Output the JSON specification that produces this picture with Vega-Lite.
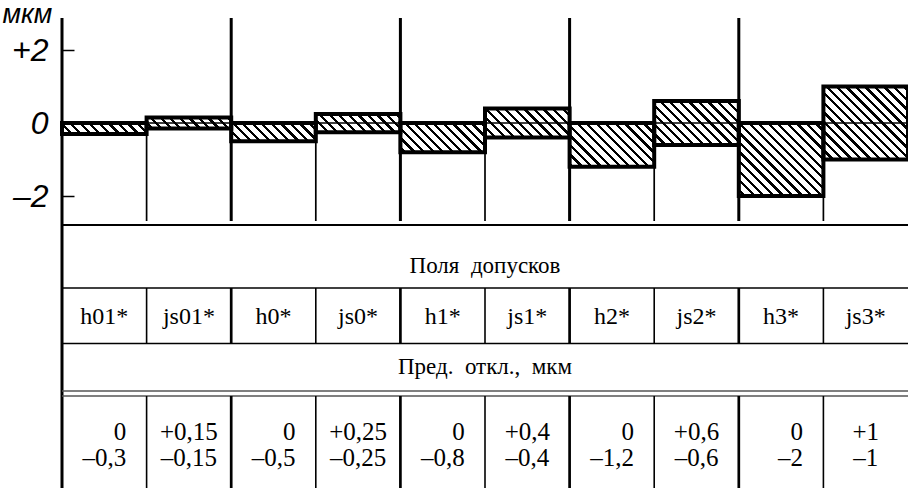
{
"$schema": "https://vega.github.io/schema/vega-lite/v6.json",
"width": 846,
"height": 488,
"autosize": "none",
"padding": {"left": 62, "top": 0, "right": 0, "bottom": 0},
"background": "white",
"config": {
  "view": {"stroke": null},
  "locale": {"number": {"decimal": ",", "thousands": "\u00a0", "grouping": [3], "currency": ["", ""], "minus": "\u2013"}}
},
"data": {"values": [
  {"name": "h01*", "kind": "h", "lower": -0.3, "upper": 0},
  {"name": "js01*", "kind": "js", "lower": -0.15, "upper": 0.15},
  {"name": "h0*", "kind": "h", "lower": -0.5, "upper": 0},
  {"name": "js0*", "kind": "js", "lower": -0.25, "upper": 0.25},
  {"name": "h1*", "kind": "h", "lower": -0.8, "upper": 0},
  {"name": "js1*", "kind": "js", "lower": -0.4, "upper": 0.4},
  {"name": "h2*", "kind": "h", "lower": -1.2, "upper": 0},
  {"name": "js2*", "kind": "js", "lower": -0.6, "upper": 0.6},
  {"name": "h3*", "kind": "h", "lower": -2, "upper": 0},
  {"name": "js3*", "kind": "js", "lower": -1, "upper": 1}
]},
"layer": [
  {
    "data": {"values": [{}]},
    "mark": {"type": "rect", "fill": {"gradient": "linear", "x1": 0, "y1": 1, "x2": 1.11083, "y2": 0.85622, "stops": [
{"offset":0.0033,"color":"#fff"},{"offset":0.0033,"color":"#000"},{"offset":0.0067,"color":"#000"},{"offset":0.0067,"color":"#fff"},
{"offset":0.0133,"color":"#fff"},{"offset":0.0133,"color":"#000"},{"offset":0.0167,"color":"#000"},{"offset":0.0167,"color":"#fff"},
{"offset":0.0233,"color":"#fff"},{"offset":0.0233,"color":"#000"},{"offset":0.0267,"color":"#000"},{"offset":0.0267,"color":"#fff"},
{"offset":0.0333,"color":"#fff"},{"offset":0.0333,"color":"#000"},{"offset":0.0367,"color":"#000"},{"offset":0.0367,"color":"#fff"},
{"offset":0.0433,"color":"#fff"},{"offset":0.0433,"color":"#000"},{"offset":0.0467,"color":"#000"},{"offset":0.0467,"color":"#fff"},
{"offset":0.0533,"color":"#fff"},{"offset":0.0533,"color":"#000"},{"offset":0.0567,"color":"#000"},{"offset":0.0567,"color":"#fff"},
{"offset":0.0633,"color":"#fff"},{"offset":0.0633,"color":"#000"},{"offset":0.0667,"color":"#000"},{"offset":0.0667,"color":"#fff"},
{"offset":0.0733,"color":"#fff"},{"offset":0.0733,"color":"#000"},{"offset":0.0767,"color":"#000"},{"offset":0.0767,"color":"#fff"},
{"offset":0.0833,"color":"#fff"},{"offset":0.0833,"color":"#000"},{"offset":0.0867,"color":"#000"},{"offset":0.0867,"color":"#fff"},
{"offset":0.0933,"color":"#fff"},{"offset":0.0933,"color":"#000"},{"offset":0.0967,"color":"#000"},{"offset":0.0967,"color":"#fff"},
{"offset":0.1033,"color":"#fff"},{"offset":0.1033,"color":"#000"},{"offset":0.1067,"color":"#000"},{"offset":0.1067,"color":"#fff"},
{"offset":0.1133,"color":"#fff"},{"offset":0.1133,"color":"#000"},{"offset":0.1167,"color":"#000"},{"offset":0.1167,"color":"#fff"},
{"offset":0.1233,"color":"#fff"},{"offset":0.1233,"color":"#000"},{"offset":0.1267,"color":"#000"},{"offset":0.1267,"color":"#fff"},
{"offset":0.1333,"color":"#fff"},{"offset":0.1333,"color":"#000"},{"offset":0.1367,"color":"#000"},{"offset":0.1367,"color":"#fff"},
{"offset":0.1433,"color":"#fff"},{"offset":0.1433,"color":"#000"},{"offset":0.1467,"color":"#000"},{"offset":0.1467,"color":"#fff"},
{"offset":0.1533,"color":"#fff"},{"offset":0.1533,"color":"#000"},{"offset":0.1567,"color":"#000"},{"offset":0.1567,"color":"#fff"},
{"offset":0.1633,"color":"#fff"},{"offset":0.1633,"color":"#000"},{"offset":0.1667,"color":"#000"},{"offset":0.1667,"color":"#fff"},
{"offset":0.1733,"color":"#fff"},{"offset":0.1733,"color":"#000"},{"offset":0.1767,"color":"#000"},{"offset":0.1767,"color":"#fff"},
{"offset":0.1833,"color":"#fff"},{"offset":0.1833,"color":"#000"},{"offset":0.1867,"color":"#000"},{"offset":0.1867,"color":"#fff"},
{"offset":0.1933,"color":"#fff"},{"offset":0.1933,"color":"#000"},{"offset":0.1967,"color":"#000"},{"offset":0.1967,"color":"#fff"},
{"offset":0.2033,"color":"#fff"},{"offset":0.2033,"color":"#000"},{"offset":0.2067,"color":"#000"},{"offset":0.2067,"color":"#fff"},
{"offset":0.2133,"color":"#fff"},{"offset":0.2133,"color":"#000"},{"offset":0.2167,"color":"#000"},{"offset":0.2167,"color":"#fff"},
{"offset":0.2233,"color":"#fff"},{"offset":0.2233,"color":"#000"},{"offset":0.2267,"color":"#000"},{"offset":0.2267,"color":"#fff"},
{"offset":0.2333,"color":"#fff"},{"offset":0.2333,"color":"#000"},{"offset":0.2367,"color":"#000"},{"offset":0.2367,"color":"#fff"},
{"offset":0.2433,"color":"#fff"},{"offset":0.2433,"color":"#000"},{"offset":0.2467,"color":"#000"},{"offset":0.2467,"color":"#fff"},
{"offset":0.2533,"color":"#fff"},{"offset":0.2533,"color":"#000"},{"offset":0.2567,"color":"#000"},{"offset":0.2567,"color":"#fff"},
{"offset":0.2633,"color":"#fff"},{"offset":0.2633,"color":"#000"},{"offset":0.2667,"color":"#000"},{"offset":0.2667,"color":"#fff"},
{"offset":0.2733,"color":"#fff"},{"offset":0.2733,"color":"#000"},{"offset":0.2767,"color":"#000"},{"offset":0.2767,"color":"#fff"},
{"offset":0.2833,"color":"#fff"},{"offset":0.2833,"color":"#000"},{"offset":0.2867,"color":"#000"},{"offset":0.2867,"color":"#fff"},
{"offset":0.2933,"color":"#fff"},{"offset":0.2933,"color":"#000"},{"offset":0.2967,"color":"#000"},{"offset":0.2967,"color":"#fff"},
{"offset":0.3033,"color":"#fff"},{"offset":0.3033,"color":"#000"},{"offset":0.3067,"color":"#000"},{"offset":0.3067,"color":"#fff"},
{"offset":0.3133,"color":"#fff"},{"offset":0.3133,"color":"#000"},{"offset":0.3167,"color":"#000"},{"offset":0.3167,"color":"#fff"},
{"offset":0.3233,"color":"#fff"},{"offset":0.3233,"color":"#000"},{"offset":0.3267,"color":"#000"},{"offset":0.3267,"color":"#fff"},
{"offset":0.3333,"color":"#fff"},{"offset":0.3333,"color":"#000"},{"offset":0.3367,"color":"#000"},{"offset":0.3367,"color":"#fff"},
{"offset":0.3433,"color":"#fff"},{"offset":0.3433,"color":"#000"},{"offset":0.3467,"color":"#000"},{"offset":0.3467,"color":"#fff"},
{"offset":0.3533,"color":"#fff"},{"offset":0.3533,"color":"#000"},{"offset":0.3567,"color":"#000"},{"offset":0.3567,"color":"#fff"},
{"offset":0.3633,"color":"#fff"},{"offset":0.3633,"color":"#000"},{"offset":0.3667,"color":"#000"},{"offset":0.3667,"color":"#fff"},
{"offset":0.3733,"color":"#fff"},{"offset":0.3733,"color":"#000"},{"offset":0.3767,"color":"#000"},{"offset":0.3767,"color":"#fff"},
{"offset":0.3833,"color":"#fff"},{"offset":0.3833,"color":"#000"},{"offset":0.3867,"color":"#000"},{"offset":0.3867,"color":"#fff"},
{"offset":0.3933,"color":"#fff"},{"offset":0.3933,"color":"#000"},{"offset":0.3967,"color":"#000"},{"offset":0.3967,"color":"#fff"},
{"offset":0.4033,"color":"#fff"},{"offset":0.4033,"color":"#000"},{"offset":0.4067,"color":"#000"},{"offset":0.4067,"color":"#fff"},
{"offset":0.4133,"color":"#fff"},{"offset":0.4133,"color":"#000"},{"offset":0.4167,"color":"#000"},{"offset":0.4167,"color":"#fff"},
{"offset":0.4233,"color":"#fff"},{"offset":0.4233,"color":"#000"},{"offset":0.4267,"color":"#000"},{"offset":0.4267,"color":"#fff"},
{"offset":0.4333,"color":"#fff"},{"offset":0.4333,"color":"#000"},{"offset":0.4367,"color":"#000"},{"offset":0.4367,"color":"#fff"},
{"offset":0.4433,"color":"#fff"},{"offset":0.4433,"color":"#000"},{"offset":0.4467,"color":"#000"},{"offset":0.4467,"color":"#fff"},
{"offset":0.4533,"color":"#fff"},{"offset":0.4533,"color":"#000"},{"offset":0.4567,"color":"#000"},{"offset":0.4567,"color":"#fff"},
{"offset":0.4633,"color":"#fff"},{"offset":0.4633,"color":"#000"},{"offset":0.4667,"color":"#000"},{"offset":0.4667,"color":"#fff"},
{"offset":0.4733,"color":"#fff"},{"offset":0.4733,"color":"#000"},{"offset":0.4767,"color":"#000"},{"offset":0.4767,"color":"#fff"},
{"offset":0.4833,"color":"#fff"},{"offset":0.4833,"color":"#000"},{"offset":0.4867,"color":"#000"},{"offset":0.4867,"color":"#fff"},
{"offset":0.4933,"color":"#fff"},{"offset":0.4933,"color":"#000"},{"offset":0.4967,"color":"#000"},{"offset":0.4967,"color":"#fff"},
{"offset":0.5033,"color":"#fff"},{"offset":0.5033,"color":"#000"},{"offset":0.5067,"color":"#000"},{"offset":0.5067,"color":"#fff"},
{"offset":0.5133,"color":"#fff"},{"offset":0.5133,"color":"#000"},{"offset":0.5167,"color":"#000"},{"offset":0.5167,"color":"#fff"},
{"offset":0.5233,"color":"#fff"},{"offset":0.5233,"color":"#000"},{"offset":0.5267,"color":"#000"},{"offset":0.5267,"color":"#fff"},
{"offset":0.5333,"color":"#fff"},{"offset":0.5333,"color":"#000"},{"offset":0.5367,"color":"#000"},{"offset":0.5367,"color":"#fff"},
{"offset":0.5433,"color":"#fff"},{"offset":0.5433,"color":"#000"},{"offset":0.5467,"color":"#000"},{"offset":0.5467,"color":"#fff"},
{"offset":0.5533,"color":"#fff"},{"offset":0.5533,"color":"#000"},{"offset":0.5567,"color":"#000"},{"offset":0.5567,"color":"#fff"},
{"offset":0.5633,"color":"#fff"},{"offset":0.5633,"color":"#000"},{"offset":0.5667,"color":"#000"},{"offset":0.5667,"color":"#fff"},
{"offset":0.5733,"color":"#fff"},{"offset":0.5733,"color":"#000"},{"offset":0.5767,"color":"#000"},{"offset":0.5767,"color":"#fff"},
{"offset":0.5833,"color":"#fff"},{"offset":0.5833,"color":"#000"},{"offset":0.5867,"color":"#000"},{"offset":0.5867,"color":"#fff"},
{"offset":0.5933,"color":"#fff"},{"offset":0.5933,"color":"#000"},{"offset":0.5967,"color":"#000"},{"offset":0.5967,"color":"#fff"},
{"offset":0.6033,"color":"#fff"},{"offset":0.6033,"color":"#000"},{"offset":0.6067,"color":"#000"},{"offset":0.6067,"color":"#fff"},
{"offset":0.6133,"color":"#fff"},{"offset":0.6133,"color":"#000"},{"offset":0.6167,"color":"#000"},{"offset":0.6167,"color":"#fff"},
{"offset":0.6233,"color":"#fff"},{"offset":0.6233,"color":"#000"},{"offset":0.6267,"color":"#000"},{"offset":0.6267,"color":"#fff"},
{"offset":0.6333,"color":"#fff"},{"offset":0.6333,"color":"#000"},{"offset":0.6367,"color":"#000"},{"offset":0.6367,"color":"#fff"},
{"offset":0.6433,"color":"#fff"},{"offset":0.6433,"color":"#000"},{"offset":0.6467,"color":"#000"},{"offset":0.6467,"color":"#fff"},
{"offset":0.6533,"color":"#fff"},{"offset":0.6533,"color":"#000"},{"offset":0.6567,"color":"#000"},{"offset":0.6567,"color":"#fff"},
{"offset":0.6633,"color":"#fff"},{"offset":0.6633,"color":"#000"},{"offset":0.6667,"color":"#000"},{"offset":0.6667,"color":"#fff"},
{"offset":0.6733,"color":"#fff"},{"offset":0.6733,"color":"#000"},{"offset":0.6767,"color":"#000"},{"offset":0.6767,"color":"#fff"},
{"offset":0.6833,"color":"#fff"},{"offset":0.6833,"color":"#000"},{"offset":0.6867,"color":"#000"},{"offset":0.6867,"color":"#fff"},
{"offset":0.6933,"color":"#fff"},{"offset":0.6933,"color":"#000"},{"offset":0.6967,"color":"#000"},{"offset":0.6967,"color":"#fff"},
{"offset":0.7033,"color":"#fff"},{"offset":0.7033,"color":"#000"},{"offset":0.7067,"color":"#000"},{"offset":0.7067,"color":"#fff"},
{"offset":0.7133,"color":"#fff"},{"offset":0.7133,"color":"#000"},{"offset":0.7167,"color":"#000"},{"offset":0.7167,"color":"#fff"},
{"offset":0.7233,"color":"#fff"},{"offset":0.7233,"color":"#000"},{"offset":0.7267,"color":"#000"},{"offset":0.7267,"color":"#fff"},
{"offset":0.7333,"color":"#fff"},{"offset":0.7333,"color":"#000"},{"offset":0.7367,"color":"#000"},{"offset":0.7367,"color":"#fff"},
{"offset":0.7433,"color":"#fff"},{"offset":0.7433,"color":"#000"},{"offset":0.7467,"color":"#000"},{"offset":0.7467,"color":"#fff"},
{"offset":0.7533,"color":"#fff"},{"offset":0.7533,"color":"#000"},{"offset":0.7567,"color":"#000"},{"offset":0.7567,"color":"#fff"},
{"offset":0.7633,"color":"#fff"},{"offset":0.7633,"color":"#000"},{"offset":0.7667,"color":"#000"},{"offset":0.7667,"color":"#fff"},
{"offset":0.7733,"color":"#fff"},{"offset":0.7733,"color":"#000"},{"offset":0.7767,"color":"#000"},{"offset":0.7767,"color":"#fff"},
{"offset":0.7833,"color":"#fff"},{"offset":0.7833,"color":"#000"},{"offset":0.7867,"color":"#000"},{"offset":0.7867,"color":"#fff"},
{"offset":0.7933,"color":"#fff"},{"offset":0.7933,"color":"#000"},{"offset":0.7967,"color":"#000"},{"offset":0.7967,"color":"#fff"},
{"offset":0.8033,"color":"#fff"},{"offset":0.8033,"color":"#000"},{"offset":0.8067,"color":"#000"},{"offset":0.8067,"color":"#fff"},
{"offset":0.8133,"color":"#fff"},{"offset":0.8133,"color":"#000"},{"offset":0.8167,"color":"#000"},{"offset":0.8167,"color":"#fff"},
{"offset":0.8233,"color":"#fff"},{"offset":0.8233,"color":"#000"},{"offset":0.8267,"color":"#000"},{"offset":0.8267,"color":"#fff"},
{"offset":0.8333,"color":"#fff"},{"offset":0.8333,"color":"#000"},{"offset":0.8367,"color":"#000"},{"offset":0.8367,"color":"#fff"},
{"offset":0.8433,"color":"#fff"},{"offset":0.8433,"color":"#000"},{"offset":0.8467,"color":"#000"},{"offset":0.8467,"color":"#fff"},
{"offset":0.8533,"color":"#fff"},{"offset":0.8533,"color":"#000"},{"offset":0.8567,"color":"#000"},{"offset":0.8567,"color":"#fff"},
{"offset":0.8633,"color":"#fff"},{"offset":0.8633,"color":"#000"},{"offset":0.8667,"color":"#000"},{"offset":0.8667,"color":"#fff"},
{"offset":0.8733,"color":"#fff"},{"offset":0.8733,"color":"#000"},{"offset":0.8767,"color":"#000"},{"offset":0.8767,"color":"#fff"},
{"offset":0.8833,"color":"#fff"},{"offset":0.8833,"color":"#000"},{"offset":0.8867,"color":"#000"},{"offset":0.8867,"color":"#fff"},
{"offset":0.8933,"color":"#fff"},{"offset":0.8933,"color":"#000"},{"offset":0.8967,"color":"#000"},{"offset":0.8967,"color":"#fff"},
{"offset":0.9033,"color":"#fff"},{"offset":0.9033,"color":"#000"},{"offset":0.9067,"color":"#000"},{"offset":0.9067,"color":"#fff"},
{"offset":0.9133,"color":"#fff"},{"offset":0.9133,"color":"#000"},{"offset":0.9167,"color":"#000"},{"offset":0.9167,"color":"#fff"},
{"offset":0.9233,"color":"#fff"},{"offset":0.9233,"color":"#000"},{"offset":0.9267,"color":"#000"},{"offset":0.9267,"color":"#fff"},
{"offset":0.9333,"color":"#fff"},{"offset":0.9333,"color":"#000"},{"offset":0.9367,"color":"#000"},{"offset":0.9367,"color":"#fff"},
{"offset":0.9433,"color":"#fff"},{"offset":0.9433,"color":"#000"},{"offset":0.9467,"color":"#000"},{"offset":0.9467,"color":"#fff"},
{"offset":0.9533,"color":"#fff"},{"offset":0.9533,"color":"#000"},{"offset":0.9567,"color":"#000"},{"offset":0.9567,"color":"#fff"},
{"offset":0.9633,"color":"#fff"},{"offset":0.9633,"color":"#000"},{"offset":0.9667,"color":"#000"},{"offset":0.9667,"color":"#fff"},
{"offset":0.9733,"color":"#fff"},{"offset":0.9733,"color":"#000"},{"offset":0.9767,"color":"#000"},{"offset":0.9767,"color":"#fff"},
{"offset":0.9833,"color":"#fff"},{"offset":0.9833,"color":"#000"},{"offset":0.9867,"color":"#000"},{"offset":0.9867,"color":"#fff"},
{"offset":0.9933,"color":"#fff"},{"offset":0.9933,"color":"#000"},{"offset":0.9967,"color":"#000"},{"offset":0.9967,"color":"#fff"}
    ]}},
    "encoding": {
      "x": {"datum": "h01*", "type": "nominal", "bandPosition": 0, "axis": null,
            "scale": {"type": "band", "domain": ["h01*", "js01*", "h0*", "js0*", "h1*", "js1*", "h2*", "js2*", "h3*", "js3*"], "paddingInner": 0, "paddingOuter": 0}},
      "x2": {"datum": "js3*", "bandPosition": 1},
      "y": {"datum": 1, "type": "quantitative",
            "scale": {"domain": [-10, 3.3699], "nice": false, "zero": false},
            "axis": {"values": [-2, 0, 2], "domain": false, "grid": false, "zindex": 1,
                     "tickSize": -12, "tickWidth": 1.5, "tickColor": "black",
                     "labelPadding": 26, "labelFont": "Liberation Sans", "labelFontStyle": "italic",
                     "labelFontSize": 32, "labelColor": "black", "labelOverlap": false,
                     "labelExpr": "datum.value > 0 ? '+' + datum.label : datum.label",
                     "title": "мкм", "titleAngle": 0, "titleX": -60, "titleY": 22,
                     "titleAlign": "left", "titleBaseline": "alphabetic",
                     "titleFont": "Liberation Sans", "titleFontStyle": "italic", "titleFontWeight": "normal",
                     "titleFontSize": 27, "titleColor": "black"}},
      "y2": {"datum": -2}
    }
  },
  {
    "mark": {"type": "rect", "fill": "white", "stroke": "white", "strokeWidth": 1.5},
    "encoding": {
      "x": {"field": "name", "type": "nominal"},
      "y": {"field": "upper", "type": "quantitative"},
      "y2": {"datum": 1}
    }
  },
  {
    "mark": {"type": "rect", "fill": "white", "stroke": "white", "strokeWidth": 1.5},
    "encoding": {
      "x": {"field": "name", "type": "nominal"},
      "y": {"field": "lower", "type": "quantitative"},
      "y2": {"datum": -2}
    }
  },
  {
    "data": {"values": [{}]},
    "mark": {"type": "rule", "color": "black", "strokeWidth": 1.3},
    "encoding": {
      "x": {"datum": "h01*", "type": "nominal", "bandPosition": 0},
      "x2": {"datum": "js3*", "bandPosition": 1},
      "y": {"datum": 0, "type": "quantitative"}
    }
  },
  {
    "transform": [{"filter": "datum.kind == 'h' && datum.name != 'h01*'"}],
    "mark": {"type": "rule", "color": "black", "strokeWidth": 3},
    "encoding": {
      "x": {"field": "name", "type": "nominal", "bandPosition": 0},
      "y": {"datum": 2.877, "type": "quantitative"},
      "y2": {"datum": -2.685}
    }
  },
  {
    "transform": [{"filter": "datum.kind == 'h'"}],
    "mark": {"type": "rule", "color": "black", "strokeWidth": 1.7},
    "encoding": {
      "x": {"field": "name", "type": "nominal", "bandPosition": 1},
      "y": {"field": "lower", "type": "quantitative"},
      "y2": {"datum": -2.685}
    }
  },
  {
    "data": {"values": [{}]},
    "mark": {"type": "rule", "color": "black", "strokeWidth": 3},
    "encoding": {
      "x": {"datum": "h01*", "type": "nominal", "bandPosition": 0},
      "y": {"datum": 2.877, "type": "quantitative"},
      "y2": {"datum": -10}
    }
  },
  {
    "mark": {"type": "rect", "fillOpacity": 0, "stroke": "black", "strokeWidth": 4},
    "encoding": {
      "x": {"field": "name", "type": "nominal"},
      "y": {"field": "lower", "type": "quantitative"},
      "y2": {"field": "upper"}
    }
  },
  {
    "data": {"values": [{}]},
    "mark": {"type": "rule", "color": "black", "strokeWidth": 2},
    "encoding": {
      "x": {"datum": "h01*", "type": "nominal", "bandPosition": 0},
      "x2": {"datum": "js3*", "bandPosition": 1},
      "y": {"datum": -2.795, "type": "quantitative"}
    }
  },
  {
    "data": {"values": [{}]},
    "mark": {"type": "rule", "color": "black", "strokeWidth": 1.5},
    "encoding": {
      "x": {"datum": "h01*", "type": "nominal", "bandPosition": 0},
      "x2": {"datum": "js3*", "bandPosition": 1},
      "y": {"datum": -4.521, "type": "quantitative"}
    }
  },
  {
    "data": {"values": [{}]},
    "mark": {"type": "rule", "color": "black", "strokeWidth": 1.5},
    "encoding": {
      "x": {"datum": "h01*", "type": "nominal", "bandPosition": 0},
      "x2": {"datum": "js3*", "bandPosition": 1},
      "y": {"datum": -6.041, "type": "quantitative"}
    }
  },
  {
    "data": {"values": [{}]},
    "mark": {"type": "rule", "color": "#555555", "strokeWidth": 1.3},
    "encoding": {
      "x": {"datum": "h01*", "type": "nominal", "bandPosition": 0},
      "x2": {"datum": "js3*", "bandPosition": 1},
      "y": {"datum": -7.342, "type": "quantitative"}
    }
  },
  {
    "data": {"values": [{}]},
    "mark": {"type": "rule", "color": "#555555", "strokeWidth": 1.3},
    "encoding": {
      "x": {"datum": "h01*", "type": "nominal", "bandPosition": 0},
      "x2": {"datum": "js3*", "bandPosition": 1},
      "y": {"datum": -7.479, "type": "quantitative"}
    }
  },
  {
    "transform": [{"filter": "datum.kind == 'js'"}],
    "mark": {"type": "rule", "color": "black", "strokeWidth": 1.6},
    "encoding": {
      "x": {"field": "name", "type": "nominal", "bandPosition": 0},
      "y": {"datum": -4.521, "type": "quantitative"},
      "y2": {"datum": -6.041}
    }
  },
  {
    "transform": [{"filter": "datum.kind == 'h' && datum.name != 'h01*'"}],
    "mark": {"type": "rule", "color": "black", "strokeWidth": 2.7},
    "encoding": {
      "x": {"field": "name", "type": "nominal", "bandPosition": 0},
      "y": {"datum": -4.521, "type": "quantitative"},
      "y2": {"datum": -6.041}
    }
  },
  {
    "transform": [{"filter": "datum.kind == 'js'"}],
    "mark": {"type": "rule", "color": "black", "strokeWidth": 1.6},
    "encoding": {
      "x": {"field": "name", "type": "nominal", "bandPosition": 0},
      "y": {"datum": -7.479, "type": "quantitative"},
      "y2": {"datum": -10}
    }
  },
  {
    "transform": [{"filter": "datum.kind == 'h' && datum.name != 'h01*'"}],
    "mark": {"type": "rule", "color": "black", "strokeWidth": 2.7},
    "encoding": {
      "x": {"field": "name", "type": "nominal", "bandPosition": 0},
      "y": {"datum": -7.479, "type": "quantitative"},
      "y2": {"datum": -10}
    }
  },
  {
    "data": {"values": [{"t": "Поля\u00a0\u00a0допусков"}]},
    "mark": {"type": "text", "font": "Liberation Serif", "fontSize": 23, "color": "black", "baseline": "alphabetic", "align": "center"},
    "encoding": {
      "x": {"value": {"expr": "width/2"}},
      "y": {"datum": -4.10, "type": "quantitative"},
      "text": {"field": "t", "type": "nominal"}
    }
  },
  {
    "data": {"values": [{"t": "Пред.\u00a0\u00a0откл.,\u00a0\u00a0мкм"}]},
    "mark": {"type": "text", "font": "Liberation Serif", "fontSize": 23, "color": "black", "baseline": "alphabetic", "align": "center"},
    "encoding": {
      "x": {"value": {"expr": "width/2"}},
      "y": {"datum": -6.89, "type": "quantitative"},
      "text": {"field": "t", "type": "nominal"}
    }
  },
  {
    "mark": {"type": "text", "font": "Liberation Serif", "fontSize": 24, "color": "black", "baseline": "alphabetic", "align": "center"},
    "encoding": {
      "x": {"field": "name", "type": "nominal"},
      "y": {"datum": -5.5, "type": "quantitative"},
      "text": {"field": "name", "type": "nominal"}
    }
  },
  {
    "transform": [{"filter": "datum.kind == 'js'"}],
    "mark": {"type": "text", "font": "Liberation Serif", "fontSize": 25, "color": "black", "baseline": "alphabetic", "align": "center"},
    "encoding": {
      "x": {"field": "name", "type": "nominal"},
      "y": {"datum": -8.685, "type": "quantitative"},
      "text": {"field": "upper", "type": "quantitative", "format": "+~g"}
    }
  },
  {
    "transform": [{"filter": "datum.kind == 'js'"}],
    "mark": {"type": "text", "font": "Liberation Serif", "fontSize": 25, "color": "black", "baseline": "alphabetic", "align": "center"},
    "encoding": {
      "x": {"field": "name", "type": "nominal"},
      "y": {"datum": -9.41, "type": "quantitative"},
      "text": {"field": "lower", "type": "quantitative", "format": "~g"}
    }
  },
  {
    "transform": [{"filter": "datum.kind == 'h'"}],
    "mark": {"type": "text", "font": "Liberation Serif", "fontSize": 25, "color": "black", "baseline": "alphabetic", "align": "right", "dx": 22},
    "encoding": {
      "x": {"field": "name", "type": "nominal"},
      "y": {"datum": -8.685, "type": "quantitative"},
      "text": {"field": "upper", "type": "quantitative", "format": "~g"}
    }
  },
  {
    "transform": [{"filter": "datum.kind == 'h'"}],
    "mark": {"type": "text", "font": "Liberation Serif", "fontSize": 25, "color": "black", "baseline": "alphabetic", "align": "right", "dx": 22},
    "encoding": {
      "x": {"field": "name", "type": "nominal"},
      "y": {"datum": -9.41, "type": "quantitative"},
      "text": {"field": "lower", "type": "quantitative", "format": "~g"}
    }
  }
]
}
